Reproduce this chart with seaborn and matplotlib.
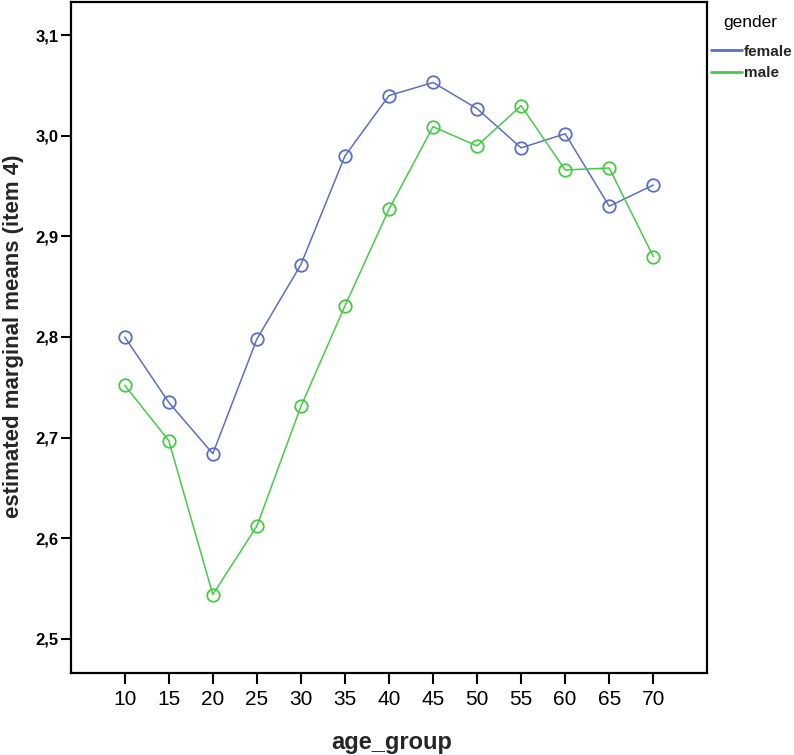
import matplotlib
matplotlib.use("Agg")
import matplotlib.pyplot as plt
import seaborn as sns
import pandas as pd
from matplotlib.lines import Line2D
from matplotlib.ticker import FuncFormatter

age_groups = [10, 15, 20, 25, 30, 35, 40, 45, 50, 55, 60, 65, 70]
female = [2.800, 2.735, 2.684, 2.798, 2.872, 2.980, 3.040, 3.053, 3.027, 2.988, 3.002, 2.930, 2.951]
male = [2.752, 2.697, 2.544, 2.612, 2.731, 2.831, 2.927, 3.009, 2.990, 3.030, 2.966, 2.968, 2.880]
genders = ["female", "male"]
colors = {"female": "#5a6ecb", "male": "#44cc44"}
y_ticks = [2.5, 2.6, 2.7, 2.8, 2.9, 3.0, 3.1]

df = pd.DataFrame({
    "age_group": age_groups * 2,
    "mean": female + male,
    "gender": ["female"] * len(age_groups) + ["male"] * len(age_groups),
})

sns.set_style("white")
plt.rcParams["font.family"] = ["Liberation Sans", "DejaVu Sans"]

fig = plt.figure(figsize=(7.94, 7.55), dpi=100)
ax = fig.add_axes([71 / 794, 1 - 673 / 755, 636 / 794, 671 / 755])

for g in genders:
    sub = df[df["gender"] == g]
    sns.lineplot(data=sub, x="age_group", y="mean", ax=ax, color=colors[g],
                 marker="o", markersize=9, markerfacecolor="none",
                 markeredgecolor=colors[g], markeredgewidth=1.3,
                 linewidth=1.1, legend=False)

ax.set_xlim(3.9, 76.1)
ax.set_ylim(2.466, 3.133)
ax.set_xticks(age_groups)
ax.set_xticklabels([str(a) for a in age_groups])
ax.set_yticks(y_ticks)
ax.yaxis.set_major_formatter(FuncFormatter(lambda v, p: f"{v:.1f}".replace(".", ",")))

for s in ax.spines.values():
    s.set_linewidth(1.6)
    s.set_color("black")

ax.tick_params(axis="x", direction="out", length=8, width=1.5, labelsize=15, pad=4,
               bottom=True, colors="black")
ax.tick_params(axis="y", direction="out", length=7, width=1.5, labelsize=12, pad=2,
               left=True, colors="black")
for lab in ax.get_yticklabels():
    lab.set_fontweight("bold")

ax.set_xlabel("age_group", fontsize=17, fontweight="bold")
ax.set_ylabel("estimated marginal means (item 4)", fontsize=16, fontweight="bold")
ax.xaxis.label.set_va("center")
ax.xaxis.set_label_coords(0.504, -0.104)
ax.yaxis.label.set_va("center")
ax.yaxis.set_label_coords(-0.091, 0.502)

# legend title drawn as its own text, entries below it (SPSS style)
fig.text(723 / 794, 1 - 23 / 755, "gender", fontsize=12.5, ha="left", va="center",
         color="black")
handles = [Line2D([0], [0], color=colors[g], linewidth=2.0) for g in genders]
leg = fig.legend(handles, genders, loc="center left",
                 bbox_to_anchor=(708 / 794, 1 - 62.5 / 755), frameon=False,
                 fontsize=11, handlelength=2.0, handletextpad=0.15,
                 labelspacing=0.48, borderpad=0.2, borderaxespad=0)
for t in leg.get_texts():
    t.set_fontweight("bold")

fig.savefig("out.png", dpi=100)
